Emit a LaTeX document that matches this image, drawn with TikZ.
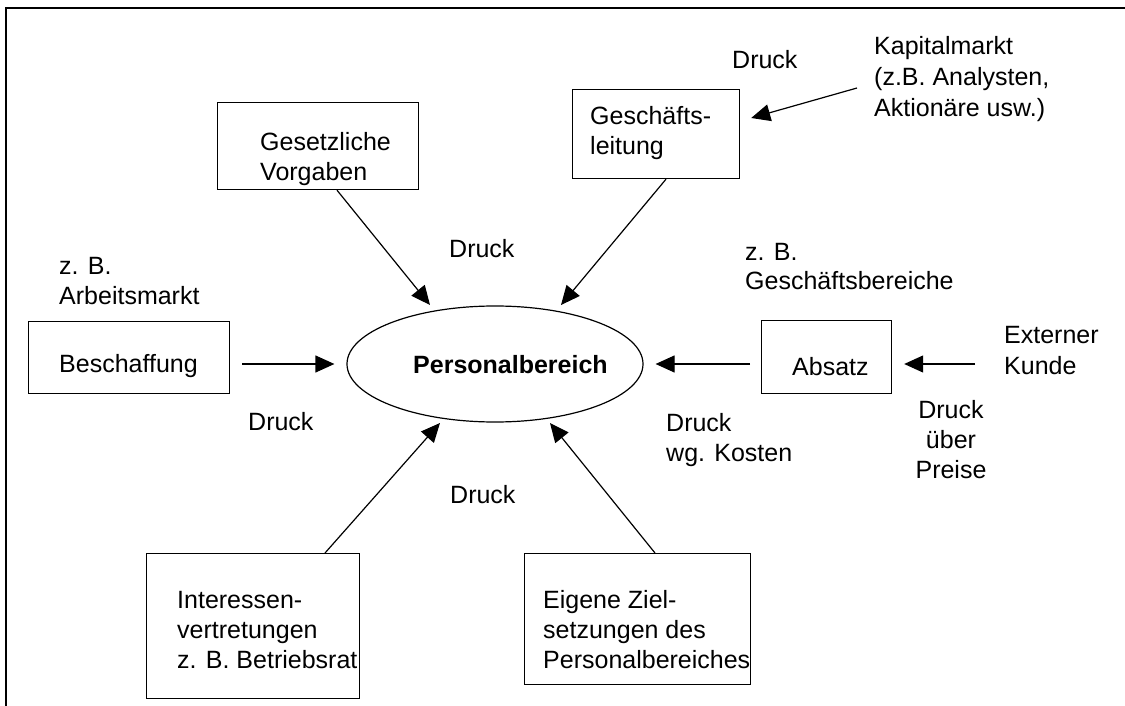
\documentclass[tikz,border=0pt]{standalone}
\usepackage{fontspec}
\setmainfont{Liberation Sans}
\usetikzlibrary{arrows.meta,shapes.geometric,calc}
\begin{document}
\begin{tikzpicture}[x=1pt,y=-1pt,
  box/.style={draw, line width=1.2pt, inner sep=0pt, anchor=north west},
  txt/.style={inner sep=0pt, anchor=west, align=left, font=\fontsize{25}{30}\selectfont},
  arr/.style={-{Triangle[length=19pt,width=17pt]}, line width=1.2pt}]
\useasboundingbox (0,0) rectangle (1125,706);
\draw[line width=1.5pt] (6,706) -- (6,8) -- (1125,8);

% boxes
\node[box, minimum width=201pt, minimum height=87pt] (gv) at (217,102) {};
\node[box, minimum width=167pt, minimum height=89pt] (gl) at (572,89) {};
\node[box, minimum width=201pt, minimum height=72pt] (bes) at (28,321) {};
\node[box, minimum width=130pt, minimum height=73pt] (abs) at (761,320) {};
\node[box, minimum width=213pt, minimum height=145pt] (int) at (146,553) {};
\node[box, minimum width=226pt, minimum height=131pt] (eig) at (524,553) {};
\node[draw, ellipse, minimum width=296pt, minimum height=116pt, inner sep=0pt, line width=1.2pt] (pb) at (495,364) {};

% box texts
\node[txt] (gvt) at (260,159) {Gesetzliche\\Vorgaben};
\node[txt] (glt) at (590,133) {Geschäfts-\\leitung};
\node[txt] (best) at (59,366) {Beschaffung};
\node[txt] (abst) at (792,367) {Absatz};
\node[txt] (intt) at (177,630) {Interessen-\\vertretungen\\z. B. Betriebsrat};
\node[txt] (eigt) at (543,630) {Eigene Ziel-\\setzungen des\\Personalbereiches};
\node[inner sep=0pt, anchor=west, font=\bfseries\fontsize{25}{30}\selectfont] (pbt) at (413,365) {Personalbereich};

% free labels
\node[txt] (d1) at (732,60) {Druck};
\node[txt, font=\fontsize{25}{31}\selectfont] (kap) at (874,79) {Kapitalmarkt\\(z.B. Analysten,\\Aktionäre usw.)};
\node[txt] (d2) at (449,249) {Druck};
\node[txt] (arb) at (59,281) {z. B.\\Arbeitsmarkt};
\node[txt] (d3) at (248,422) {Druck};
\node[txt, font=\fontsize{25}{29}\selectfont] (gb) at (745,267) {z. B.\\Geschäftsbereiche};
\node[txt, font=\fontsize{25}{31}\selectfont] (kunde) at (1004,351) {Externer\\Kunde};
\node[txt, anchor=center, align=center] (dp) at (951,440) {Druck\\über\\Preise};
\node[txt] (dk) at (666,440) {Druck\\wg. Kosten};
\node[txt] (d4) at (450,495) {Druck};

% connectors
\draw[arr] ($(gv.south west)+(120,0)$) -- ($(pb.center)+(-65,-59)$);
\draw[arr] ($(gl.south west)+(94,0)$) -- ($(pb.center)+(66,-59)$);
\draw[arr] ($(int.north west)+(179,0)$) -- ($(pb.center)+(-55,59)$);
\draw[arr] ($(eig.north west)+(131,0)$) -- ($(pb.center)+(55,59)$);
\draw[arr, shorten <=12pt, shorten >=12pt] (bes.east |- pb.west) -- (pb.west);
\draw[arr, shorten <=11pt, shorten >=12pt] (abs.west |- pb.east) -- (pb.east);
\draw[arr, shorten >=12pt] ($(kunde.west |- pb.east)+(-29,0)$) -- (abs.east |- pb.east);
\draw[arr] ($(kap.west)+(-17,9)$) -- ($(gl.north east)+(11,29)$);
\end{tikzpicture}
\end{document}
